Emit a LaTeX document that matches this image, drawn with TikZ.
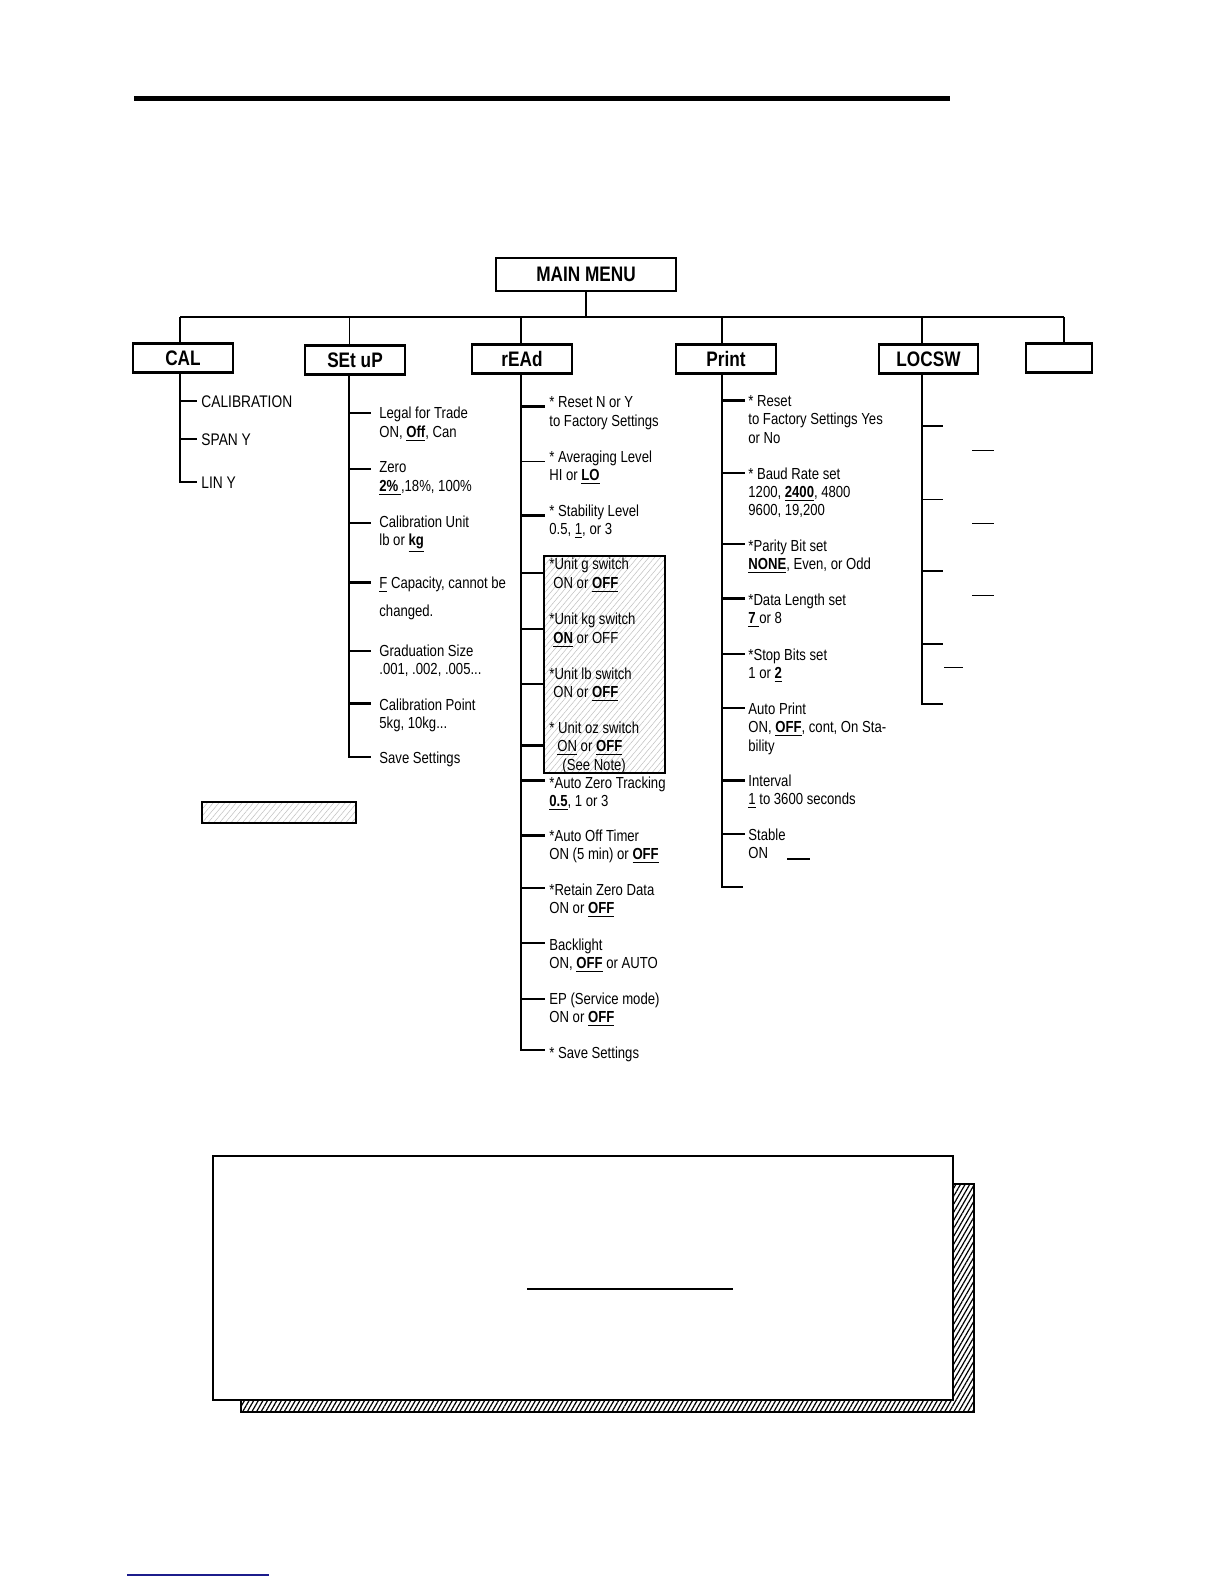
\documentclass[tikz,border=0pt]{standalone}
\usepackage{fontspec}
\setmainfont{Liberation Sans}[FakeStretch=0.82]
\usetikzlibrary{calc, patterns.meta}
\definecolor{linkblue}{HTML}{1C1C8C}
\newcommand\deflt[1]{\underline{\textbf{#1}}}
\newcommand\undl[1]{\underline{#1}}

\begin{document}
\begin{tikzpicture}[
    x=0.5pt, y=-0.5pt,
    menu/.style={draw, line width=1.1pt, minimum width=50pt, minimum height=14.5pt,
                 inner sep=0pt, font=\fontsize{10.5}{12}\selectfont\bfseries},
    item/.style={anchor=north west, align=left, inner sep=0pt,
                 font=\fontsize{8}{9.2}\selectfont},
    calitem/.style={anchor=base west, inner sep=0pt, font=\fontsize{8.4}{10}\selectfont},
    trunk/.style={line width=1.3pt},
    tick/.style={line width=1.3pt},
    thinline/.style={line width=0.5pt},
    lighthatch/.style={draw, line width=1.1pt,
                 pattern={Lines[angle=50, distance=2.2pt, line width=0.25pt]}, pattern color=black!25},
    darkhatch/.style={draw, line width=1pt,
                 pattern={Lines[angle=60, distance=2pt, line width=0.6pt]}, pattern color=black}
  ]
    \fill[white] (0,0) rectangle (1224,1584);
    \useasboundingbox (0,0) rectangle (1224,1584);

    % header rule
    \draw[line width=2.5pt] (134,99) -- (950,99);

    % main menu and the bus
    \node[menu, minimum width=90pt, minimum height=16.5pt] (mm) at (586,274.5) {MAIN MENU};
    \coordinate (xC) at (180,317);
    \coordinate (xS) at (349,317);
    \coordinate (xR) at (521,317);
    \coordinate (xP) at (722,317);
    \coordinate (xL) at (922,317);
    \coordinate (xE) at (1064,317);
    \draw[trunk] (mm.south) -- (mm.south |- xC);
    \draw[trunk] (xC) -- (xE);

    \node[menu] (cal) at (183,358) {CAL};
    \node[menu] (su) at (355,360) {SEt uP};
    \node[menu] (rd) at (522,359) {rEAd};
    \node[menu] (pr) at (726,359) {Print};
    \node[menu, minimum width=49.5pt] (lc) at (928.5,359) {LOCSW};
    \node[menu, minimum width=33pt] (em) at (1059,358) {};

    \draw[trunk] (xC) -- (xC |- cal.north);
    \draw[thinline] (xS) -- (xS |- su.north);
    \draw[trunk] (xR) -- (xR |- rd.north);
    \draw[trunk] (xP) -- (xP |- pr.north);
    \draw[trunk] (xL) -- (xL |- lc.north);
    \draw[trunk] (xE) -- (xE |- em.north);

    % CAL
    \node[calitem] (c1) at (201,407) {CALIBRATION};
    \node[calitem] (c2) at (201,445) {SPAN Y};
    \node[calitem] (c3) at (201,488) {LIN Y};
    \draw[trunk] (xC |- cal.south) |- ($(c3.base west)+(-4,-6)$);
    \draw[tick] ($(xC |- c1.base west)+(0,-6)$) -- ($(c1.base west)+(-4,-6)$);
    \draw[tick] ($(xC |- c2.base west)+(0,-6)$) -- ($(c2.base west)+(-4,-6)$);

    % SEt uP
    \node[item] (s1) at (379,406.8) {Legal for Trade\\ON, \deflt{Off}, Can};
    \node[item] (s2) at (379,461.3) {Zero\\\deflt{2\%\,},18\%, 100\%};
    \node[item] (s3) at (379,515.3) {Calibration Unit\\lb or \deflt{kg}};
    \node[item] (s4) at (379,576.3) {\undl{F} Capacity, cannot be\\[4.8pt]changed.};
    \node[item] (s5) at (379,644.3) {Graduation Size\\.001, .002, .005...};
    \node[item] (s6) at (379,698.3) {Calibration Point\\5kg, 10kg...};
    \node[item] (s7) at (379,751.8) {Save Settings};
    \draw[trunk] (xS |- su.south) |- ($(s7.north west)+(-8,5.2)$);
    \draw[tick] ($(xS |- s1.north west)+(0,6)$) -- ($(s1.north west)+(-8,6)$);
    \draw[tick] ($(xS |- s2.north west)+(0,7.5)$) -- ($(s2.north west)+(-8,7.5)$);
    \draw[tick] ($(xS |- s3.north west)+(0,7.5)$) -- ($(s3.north west)+(-8,7.5)$);
    \draw[tick] ($(xS |- s4.north west)+(0,6.4)$) -- ($(s4.north west)+(-8,6.4)$);
    \draw[tick] ($(xS |- s5.north west)+(0,6.7)$) -- ($(s5.north west)+(-8,6.7)$);
    \draw[tick] ($(xS |- s6.north west)+(0,5.4)$) -- ($(s6.north west)+(-8,5.4)$);

    \draw[lighthatch] (202,802) rectangle (356,823);

    % rEAd
    \draw[lighthatch] (544,556) rectangle (665,773);
    \node[item] (r1) at (549,396.3) {* Reset N or Y\\to Factory Settings};
    \node[item] (r2) at (549,450.3) {* Averaging Level\\HI or \deflt{LO}};
    \node[item] (r3) at (549,504.3) {* Stability Level\\0.5, \undl{1}, or 3};
    \node[item] (r4) at (549,558) {*Unit g switch\\\hspace{2pt}ON or \deflt{OFF}};
    \node[item] (r5) at (549,613) {*Unit kg switch\\\hspace{2pt}\deflt{ON} or OFF};
    \node[item] (r6) at (549,667.3) {*Unit lb switch\\\hspace{2pt}ON or \deflt{OFF}};
    \node[item] (r7) at (549,721.3) {* Unit oz switch\\\hspace{4pt}\undl{ON} or \deflt{OFF}\\\hspace{6.5pt}(See Note)};
    \node[item] (r8) at (549,776) {*Auto Zero Tracking\\\deflt{0.5}, 1 or 3};
    \node[item] (r9) at (549,829.3) {*Auto Off Timer\\ON (5 min) or \deflt{OFF}};
    \node[item] (r10) at (549,883.3) {*Retain Zero Data\\ON or \deflt{OFF}};
    \node[item] (r11) at (549,938) {Backlight\\ON, \deflt{OFF} or AUTO};
    \node[item] (r12) at (549,992.3) {EP (Service mode)\\ON or \deflt{OFF}};
    \node[item] (r13) at (549,1046) {* Save Settings};
    \draw[trunk] (xR |- rd.south) |- ($(r13.north west)+(-4,4)$);
    \draw[tick] ($(xR |- r1.north west)+(0,10.4)$) -- ($(r1.north west)+(-4,10.4)$);
    \draw[thinline] ($(xR |- r2.north west)+(0,11.4)$) -- ($(r2.north west)+(-4,11.4)$);
    \draw[tick] ($(xR |- r3.north west)+(0,11.4)$) -- ($(r3.north west)+(-4,11.4)$);
    \draw[tick] ($(xR |- r4.north west)+(0,15)$) -- ($(r4.north west)+(-4,15)$);
    \draw[tick] ($(xR |- r5.north west)+(0,16)$) -- ($(r5.north west)+(-4,16)$);
    \draw[tick] ($(xR |- r6.north west)+(0,16.7)$) -- ($(r6.north west)+(-4,16.7)$);
    \draw[tick] ($(xR |- r7.north west)+(0,24.4)$) -- ($(r7.north west)+(-4,24.4)$);
    \draw[tick] ($(xR |- r8.north west)+(0,4.7)$) -- ($(r8.north west)+(-4,4.7)$);
    \draw[tick] ($(xR |- r9.north west)+(0,6.4)$) -- ($(r9.north west)+(-4,6.4)$);
    \draw[tick] ($(xR |- r10.north west)+(0,4.7)$) -- ($(r10.north west)+(-4,4.7)$);
    \draw[tick] ($(xR |- r11.north west)+(0,5)$) -- ($(r11.north west)+(-4,5)$);
    \draw[tick] ($(xR |- r12.north west)+(0,6.7)$) -- ($(r12.north west)+(-4,6.7)$);

    % Print
    \node[item] (p1) at (748,395) {* Reset\\to Factory Settings Yes\\or No};
    \node[item] (p2) at (748,467) {* Baud Rate set\\1200, \deflt{2400}, 4800\\9600, 19,200};
    \node[item] (p3) at (748,539.3) {*Parity Bit set\\\deflt{NONE}, Even, or Odd};
    \node[item] (p4) at (748,593.3) {*Data Length set\\\deflt{7\ }or 8};
    \node[item] (p5) at (748,648.3) {*Stop Bits set\\1 or \deflt{2}};
    \node[item] (p6) at (748,702.3) {Auto Print\\ON, \deflt{OFF}, cont, On Sta-\\bility};
    \node[item] (p7) at (748,774.3) {Interval\\\undl{1} to 3600 seconds};
    \node[item] (p8) at (748,828.3) {Stable\\ON};
    \coordinate (pEnd) at (743,887);
    \draw[trunk] (xP |- pr.south) |- (pEnd);
    \draw[tick] ($(xP |- p1.north west)+(0,5.7)$) -- ($(p1.north west)+(-3,5.7)$);
    \draw[tick] ($(xP |- p2.north west)+(0,6)$) -- ($(p2.north west)+(-3,6)$);
    \draw[tick] ($(xP |- p3.north west)+(0,4.7)$) -- ($(p3.north west)+(-3,4.7)$);
    \draw[tick] ($(xP |- p4.north west)+(0,5.4)$) -- ($(p4.north west)+(-3,5.4)$);
    \draw[tick] ($(xP |- p5.north west)+(0,5.7)$) -- ($(p5.north west)+(-3,5.7)$);
    \draw[tick] ($(xP |- p6.north west)+(0,5.7)$) -- ($(p6.north west)+(-3,5.7)$);
    \draw[tick] ($(xP |- p7.north west)+(0,6.4)$) -- ($(p7.north west)+(-3,6.4)$);
    \draw[tick] ($(xP |- p8.north west)+(0,5.7)$) -- ($(p8.north west)+(-3,5.7)$);
    \draw[line width=0.7pt] (787,859) -- (810,859);

    % LOCSW
    \coordinate (l1) at (943,426);
    \coordinate (l2) at (943,499);
    \coordinate (l3) at (943,571);
    \coordinate (l4) at (943,644);
    \coordinate (lEnd) at (943,704);
    \draw[trunk] (xL |- lc.south) |- (lEnd);
    \draw[tick] (xL |- l1) -- (l1);
    \draw[thinline] (xL |- l2) -- (l2);
    \draw[tick] (xL |- l3) -- (l3);
    \draw[tick] (xL |- l4) -- (l4);
    \draw[thinline] (972,450) -- (994,450);
    \draw[thinline] (972,523) -- (994,523);
    \draw[thinline] (972,595) -- (994,595);
    \draw[thinline] (944,667) -- (963,667);

    % note panel
    \draw[darkhatch] (241,1184) rectangle (974,1412);
    \draw[line width=1.2pt, fill=white] (213,1156) rectangle (953,1400);
    \draw[line width=0.6pt] (527,1289) -- (733,1289);

    \draw[linkblue, line width=0.6pt] (127,1575) -- (269,1575);
  \end{tikzpicture}
\end{document}
